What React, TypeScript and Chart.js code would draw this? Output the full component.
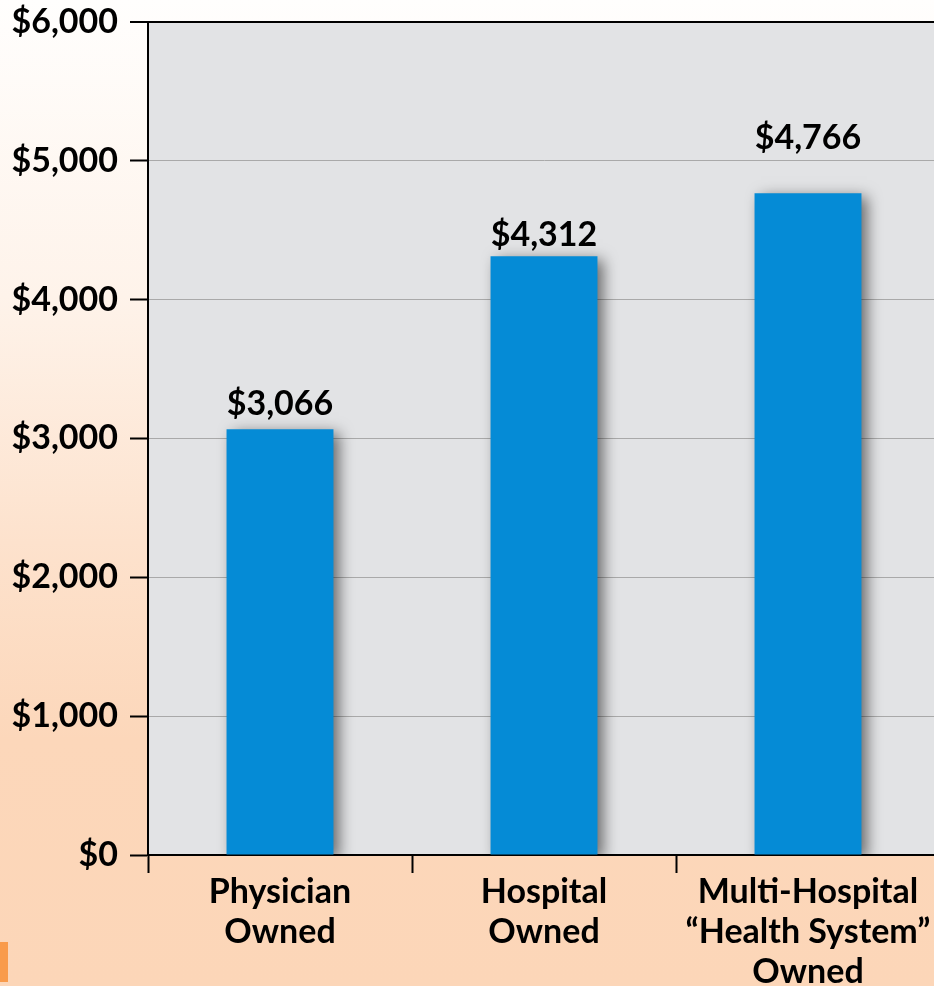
import React, { useEffect, useRef } from "react";
import { Chart, registerables } from "chart.js";

Chart.register(...registerables);

const categories: (string | string[])[] = [
  ["Physician", "Owned"],
  ["Hospital", "Owned"],
  ["Multi-Hospital", "\u201CHealth System\u201D", "Owned"],
];
const values: number[] = [3066, 4312, 4766];
const yTicks: number[] = [0, 1000, 2000, 3000, 4000, 5000, 6000];

const FONT = "Lato, 'Open Sans', sans-serif";
const LABEL_GAP = [14, 10, 44];

const fmt = (v: number) => "$" + v.toLocaleString("en-US");

export default function App() {
  const ref = useRef<HTMLCanvasElement | null>(null);

  useEffect(() => {
    document.body.style.margin = "0";
    const canvas = ref.current!;
    const plotBg = {
      id: "plotBg",
      beforeDraw(chart: any) {
        const { ctx, chartArea: a } = chart;
        ctx.save();
        ctx.fillStyle = "#e2e3e5";
        ctx.fillRect(a.left, a.top, a.right - a.left, a.bottom - a.top);
        ctx.restore();
      },
    };
    const shadow = {
      id: "barShadow",
      beforeDatasetsDraw(chart: any) {
        const ctx = chart.ctx;
        ctx.save();
        ctx.shadowColor = "rgba(0,0,0,0.55)";
        ctx.shadowBlur = 14;
        ctx.shadowOffsetX = 6;
        ctx.shadowOffsetY = 4;
      },
      afterDatasetsDraw(chart: any) {
        chart.ctx.restore();
      },
    };
    const labels = {
      id: "valueLabels",
      afterDatasetsDraw(chart: any) {
        const ctx = chart.ctx;
        const meta = chart.getDatasetMeta(0);
        ctx.save();
        ctx.fillStyle = "#000";
        ctx.font = `bold 34px ${FONT}`;
        ctx.textAlign = "center";
        ctx.textBaseline = "alphabetic";
        meta.data.forEach((el: any, i: number) => {
          ctx.fillText(fmt(values[i]), el.x, el.y - LABEL_GAP[i]);
        });
        ctx.restore();
      },
    };
    const chart = new Chart(canvas, {
      type: "bar",
      data: {
        labels: categories,
        datasets: [
          {
            data: values,
            backgroundColor: "#058bd6",
            borderWidth: 0,
            categoryPercentage: 1,
            barPercentage: 0.405,
          },
        ],
      },
      options: {
        animation: false,
        responsive: false,
        maintainAspectRatio: false,
        layout: { padding: { top: 22, right: 20, left: 0, bottom: 0 } },
        plugins: { legend: { display: false }, tooltip: { enabled: false } },
        scales: {
          x: {
            grid: {
              drawOnChartArea: false,
              drawTicks: true,
              tickLength: 18,
              tickColor: "#000",
              tickWidth: 2,
            },
            border: { color: "#000", width: 2 },
            ticks: {
              color: "#000",
              font: { family: FONT, weight: "bold", size: 34, lineHeight: 1.18 },
              padding: -1,
              maxRotation: 0,
              autoSkip: false,
            },
            afterFit: (s: any) => {
              s.height = 131;
              s.paddingLeft = 0;
              s.paddingRight = 0;
            },
          },
          y: {
            min: 0,
            max: 6000,
            afterBuildTicks: (s: any) => {
              s.ticks = yTicks.map((v) => ({ value: v }));
            },
            grid: {
              color: (c: any) => (c.tick && c.tick.value === 6000 ? "#000" : "#a9a9a9"),
              lineWidth: (c: any) => (c.tick && c.tick.value === 6000 ? 2 : 1),
              tickLength: 18,
              tickColor: "#000",
              tickWidth: 2,
            },
            border: { color: "#000", width: 2 },
            ticks: {
              color: "#000",
              font: { family: FONT, weight: "bold", size: 34 },
              padding: 12,
              callback: (v: any) => fmt(Number(v)),
            },
            afterFit: (s: any) => {
              s.width = 148;
              s.paddingTop = 0;
              s.paddingBottom = 0;
            },
          },
        },
      },
      plugins: [plotBg, shadow, labels],
    } as any);
    return () => chart.destroy();
  }, []);

  return (
    <div
      style={{
        position: "relative",
        width: 934,
        height: 986,
        overflow: "hidden",
        background: "linear-gradient(to bottom, #fffefd 0%, #fef3ea 30%, #fde2cd 55%, #fcd7ba 75%, #fcd6b8 100%)",
      }}
    >
      <canvas ref={ref} width={960} height={986} style={{ position: "absolute", left: 0, top: 0, width: 960, height: 986 }} />
      <div style={{ position: "absolute", left: 0, top: 942, width: 8, height: 40, background: "#f99b4b" }} />
    </div>
  );
}
